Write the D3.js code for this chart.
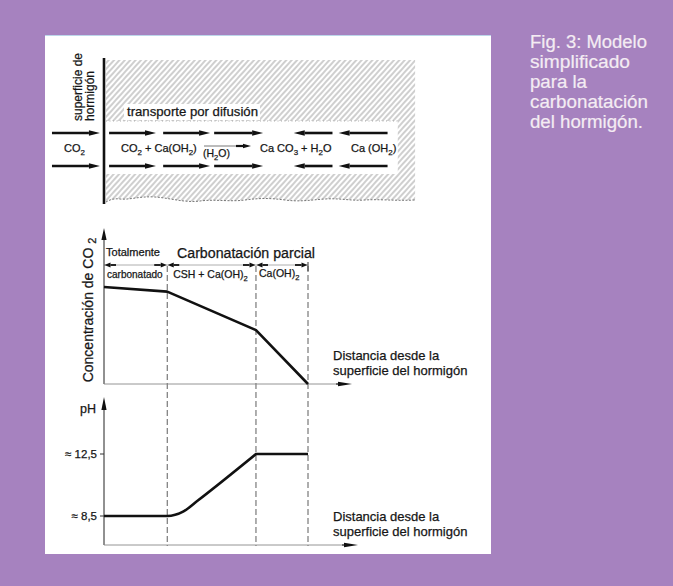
<!DOCTYPE html>
<html>
<head>
<meta charset="utf-8">
<script src="https://cdn.jsdelivr.net/npm/d3@7"></script>
<style>
  body { margin: 0; background: #a682bf; }
  text { font-family: 'Liberation Sans', Arial, sans-serif; fill: #161616; stroke: #161616; stroke-width: 0.25px; }
</style>
</head>
<body>
<div id="chart"></div>
<script>
// zone limits along the depth (arbitrary distance units)
var zoneBounds = [0, 3.1, 7.45, 10];
var zoneNames = ['carbonatado', 'CSH + Ca(OH)|2', 'Ca(OH)|2'];

// CO2 concentration profile (relative)
var co2Distance = [0, 3.1, 7.45, 10];
var co2Level = [0.63, 0.6, 0.35, 0];

// pH profile
var phDistance = [0, 3.1, 3.9, 4.6, 7.45, 10];
var phLevel = [8.5, 8.5, 8.8, 9.5, 12.5, 12.5];
var phTicks = [12.5, 8.5];
var phTickLabels = ['\u2248 12,5', '\u2248 8,5'];

// arrows of the diffusion sketch, [from, to] in distance units
var inflowArrows = [[-2.55, -0.2]];
var forwardArrows = [[0.25, 2.55], [2.9, 5.2], [5.4, 7.8]];
var backwardArrows = [[11.2, 9.3], [13.9, 11.5]];

var captionLines = ['Fig. 3: Modelo', 'simplificado', 'para la', 'carbonatación', 'del hormigón.'];
var distanceLabel = ['Distancia desde la', 'superficie del hormigón'];

var W = 673, H = 586;

var svg = d3.select('#chart')
  .append('svg')
  .attr('width', W)
  .attr('height', H);

var x = d3.scaleLinear().domain([0, 10]).range([104, 308]);
var yCo2 = d3.scaleLinear().domain([0, 1]).range([384, 230]);
var yPh = d3.scaleLinear().domain([8.5, 12.5]).range([516, 454]);

drawBackground();
drawSketch();
drawCo2Chart();
drawPhChart();
drawCaption();

function drawBackground() {
  svg.append('rect').attr('width', W).attr('height', H).attr('fill', '#a682bf');
  svg.append('rect')
    .attr('x', 45).attr('y', 35)
    .attr('width', 446).attr('height', 519)
    .attr('fill', '#ffffff');
  svg.append('line')
    .attr('x1', 45).attr('x2', 491).attr('y1', 35.5).attr('y2', 35.5)
    .attr('stroke', '#bcd6ea').attr('stroke-width', 1);
}

// horizontal arrow: shaft from x1 to x2, head at x2
function arrow(g, x1, x2, y, shaft, headLen, headHalf, color) {
  var dir = x2 > x1 ? 1 : -1;
  var xb = x2 - dir * headLen;
  g.append('line')
    .attr('x1', x1).attr('x2', xb)
    .attr('y1', y).attr('y2', y)
    .attr('stroke', color || '#111')
    .attr('stroke-width', shaft);
  g.append('path')
    .attr('d', 'M' + x2 + ',' + y + 'L' + xb + ',' + (y - headHalf) + 'L' + xb + ',' + (y + headHalf) + 'Z')
    .attr('fill', color || '#111');
}

function vArrowUp(g, xx, y1, y2, headLen, headHalf) {
  g.append('line')
    .attr('x1', xx).attr('x2', xx).attr('y1', y1).attr('y2', y2 + headLen)
    .attr('stroke', '#222').attr('stroke-width', 1);
  g.append('path')
    .attr('d', 'M' + xx + ',' + y2 + 'L' + (xx - headHalf) + ',' + (y2 + headLen) + 'L' + (xx + headHalf) + ',' + (y2 + headLen) + 'Z')
    .attr('fill', '#111');
}

// text with subscripts, parts separated by "|" alternate normal/sub
function chem(g, str, xx, yy, size, anchor) {
  var t = g.append('text')
    .attr('x', xx).attr('y', yy)
    .style('font-size', size + 'px')
    .attr('text-anchor', anchor || 'start');
  str.split('|').forEach(function (p, i) {
    var sub = i % 2 === 1;
    t.append('tspan')
      .attr('dy', i === 0 ? 0 : (sub ? size * 0.3 : -size * 0.3))
      .style('font-size', (sub ? size * 0.72 : size) + 'px')
      .text(p);
  });
  return t;
}

function drawSketch() {
  var g = svg.append('g');
  var defs = svg.append('defs');
  var pat = defs.append('pattern')
    .attr('id', 'hatch')
    .attr('patternUnits', 'userSpaceOnUse')
    .attr('width', 4).attr('height', 10)
    .attr('patternTransform', 'rotate(42)');
  pat.append('line')
    .attr('x1', 1).attr('x2', 1).attr('y1', 0).attr('y2', 10)
    .attr('stroke', '#8e8e8e').attr('stroke-width', 0.85);

  var left = x(0) + 2, right = x(15.25), chanRight = x(14.4);
  var topY = 60, chanTop = 121, chanBot = 174;

  // top band
  g.append('rect')
    .attr('x', left).attr('y', topY)
    .attr('width', right - left).attr('height', chanTop - topY)
    .attr('fill', 'url(#hatch)');
  // right end of the channel
  g.append('rect')
    .attr('x', chanRight).attr('y', chanTop)
    .attr('width', right - chanRight).attr('height', chanBot - chanTop)
    .attr('fill', 'url(#hatch)');
  // bottom band with a rough edge
  var wave = 'M' + left + ',' + chanBot + 'L' + right + ',' + chanBot +
    'L' + right + ',200 C395,201 380,199 365,200 C350,201 340,198 325,199 C310,200 300,202 285,200' +
    ' C270,198 260,198 245,200 C230,202 215,199 200,201 C185,203 170,198 155,197' +
    ' C140,196 130,200 120,199 C112,198 108,201 ' + left + ',202Z';
  g.append('path').attr('d', wave).attr('fill', 'url(#hatch)');
  g.append('path')
    .attr('d', 'M' + left + ',202 C108,201 112,198 120,199 C130,200 140,196 155,197 C170,198 185,203 200,201' +
      ' C215,199 230,202 245,200 C260,198 270,198 285,200 C300,202 310,200 325,199 C340,198 350,201 365,200 C380,199 395,201 ' + right + ',200')
    .attr('fill', 'none').attr('stroke', '#777').attr('stroke-width', 1).attr('stroke-dasharray', '2,1.5');
  g.append('line')
    .attr('x1', left).attr('x2', chanRight).attr('y1', chanTop).attr('y2', chanTop)
    .attr('stroke', '#999').attr('stroke-width', 0.8).attr('stroke-dasharray', '1,2.5');

  // label box
  g.append('rect')
    .attr('x', 124).attr('y', 104).attr('width', 136).attr('height', 16)
    .attr('fill', '#fff');
  g.append('text')
    .attr('x', 127).attr('y', 116)
    .attr('textLength', 131).attr('lengthAdjust', 'spacingAndGlyphs')
    .style('font-size', '13px')
    .text('transporte por difusión');

  // surface line
  g.append('line')
    .attr('x1', x(0)).attr('x2', x(0)).attr('y1', 58).attr('y2', 204)
    .attr('stroke', '#111').attr('stroke-width', 2.6);

  var surf = g.append('text')
    .attr('transform', 'translate(' + 82 + ',' + 121 + ') rotate(-90)')
    .style('font-size', '12px');
  surf.append('tspan').attr('x', 0).attr('dy', 0).text('superficie de');
  surf.append('tspan').attr('x', 0).attr('dy', 12).text('hormigón');

  [133, 166].forEach(function (yy) {
    inflowArrows.concat(forwardArrows, backwardArrows).forEach(function (a) {
      arrow(g, x(a[0]), x(a[1]), yy, 2.6, 11, 2.8);
    });
  });

  chem(g, 'CO|2', 64, 152, 11);
  chem(g, 'CO|2| + Ca(OH|2|)', 121, 152, 11);
  chem(g, '(H|2|O)', 203, 157, 10.5);
  g.append('line')
    .attr('x1', 204).attr('x2', 240).attr('y1', 146).attr('y2', 146)
    .attr('stroke', '#555').attr('stroke-width', 0.8);
  arrow(g, 236, 251, 146, 2.2, 8, 2.3);
  chem(g, 'Ca CO|3| + H|2|O', 260, 152, 11);
  chem(g, 'Ca (OH|2|)', 351, 152, 11);
}

function drawZoneMarks(g) {
  var yy = 265;
  g.append('line')
    .attr('x1', x(0)).attr('x2', x(10)).attr('y1', yy).attr('y2', yy)
    .attr('stroke', '#9a9a9a').attr('stroke-width', 0.8);
  for (var i = 0; i < zoneBounds.length - 1; i++) {
    var a = x(zoneBounds[i]), b = x(zoneBounds[i + 1]);
    arrow(g, a + 12, a + 0.5, yy, 1.8, 6, 2.4);
    arrow(g, b - 13, b - 0.5, yy, 1.8, 6, 2.4);
  }
  g.append('line')
    .attr('x1', x(10)).attr('x2', x(10)).attr('y1', 262).attr('y2', 271)
    .attr('stroke', '#333').attr('stroke-width', 1);

  // dashed zone limits through both charts
  g.selectAll('.limit')
    .data(zoneBounds.slice(1))
    .enter()
    .append('line')
    .attr('class', 'limit')
    .attr('x1', function (d) { return x(d); })
    .attr('x2', function (d) { return x(d); })
    .attr('y1', 266).attr('y2', 546)
    .attr('stroke', '#333').attr('stroke-width', 0.8)
    .attr('stroke-dasharray', '6,3');

  g.append('text')
    .attr('x', 106).attr('y', 256)
    .attr('textLength', 54).attr('lengthAdjust', 'spacingAndGlyphs')
    .style('font-size', '10px')
    .text('Totalmente');
  g.append('text')
    .attr('x', 177).attr('y', 258)
    .attr('textLength', 138).attr('lengthAdjust', 'spacingAndGlyphs')
    .style('font-size', '14px')
    .text('Carbonatación parcial');

  chem(g, zoneNames[0], x(zoneBounds[0]) + 3, 278, 10);
  chem(g, zoneNames[1], x(zoneBounds[1]) + 6, 278, 10.5);
  chem(g, zoneNames[2], x(zoneBounds[2]) + 3, 277, 10.5);
}

function drawDistanceLabel(g, y0) {
  var t = g.append('text').style('font-size', '13px');
  distanceLabel.forEach(function (s, i) {
    t.append('tspan').attr('x', 333).attr('y', y0 + i * 15).text(s);
  });
}

function drawCo2Chart() {
  var g = svg.append('g');
  drawZoneMarks(g);

  // axes
  vArrowUp(g, x(0), yCo2(0), 228, 12, 2.6);
  g.append('line')
    .attr('x1', x(0)).attr('x2', 340).attr('y1', yCo2(0)).attr('y2', yCo2(0))
    .attr('stroke', '#888').attr('stroke-width', 0.9);
  arrow(g, 336, 352, yCo2(0), 1, 14, 2.2);

  var line = d3.line()
    .x(function (d) { return x(d[0]); })
    .y(function (d) { return yCo2(d[1]); });
  g.append('path')
    .datum(co2Distance.map(function (d, i) { return [d, co2Level[i]]; }))
    .attr('d', line)
    .attr('fill', 'none')
    .attr('stroke', '#111')
    .attr('stroke-width', 2.6)
    .attr('stroke-linejoin', 'round');

  var lbl = g.append('text')
    .attr('transform', 'translate(93,310) rotate(-90)')
    .attr('text-anchor', 'middle')
    .style('font-size', '14px');
  lbl.append('tspan').text('Concentración de CO ');
  lbl.append('tspan').attr('dy', 3).style('font-size', '11px').text('2');

  drawDistanceLabel(g, 360);
}

function drawPhChart() {
  var g = svg.append('g');
  var yBase = 545;
  vArrowUp(g, x(0), yBase, 397, 13, 2.6);
  g.append('line')
    .attr('x1', x(0)).attr('x2', 345).attr('y1', yBase).attr('y2', yBase)
    .attr('stroke', '#888').attr('stroke-width', 0.9);
  arrow(g, 342, 358, yBase, 1, 14, 2.2);

  g.append('text')
    .attr('x', 80).attr('y', 413)
    .style('font-size', '12.5px')
    .text('pH');

  var ticks = g.selectAll('.tick')
    .data(phTicks)
    .enter()
    .append('g')
    .attr('class', 'tick');
  ticks.append('line')
    .attr('x1', x(0) - 4).attr('x2', x(0))
    .attr('y1', function (d) { return yPh(d); })
    .attr('y2', function (d) { return yPh(d); })
    .attr('stroke', '#333');
  ticks.append('text')
    .attr('x', 97)
    .attr('y', function (d) { return yPh(d) + 4; })
    .attr('text-anchor', 'end')
    .style('font-size', '11.5px')
    .text(function (d, i) { return phTickLabels[i]; });

  var pts = phDistance.map(function (d, i) { return [d, phLevel[i]]; });
  var k = phDistance.indexOf(7.45);
  var curve = d3.line()
    .x(function (d) { return x(d[0]); })
    .y(function (d) { return yPh(d[1]); })
    .curve(d3.curveMonotoneX);
  var flat = d3.line()
    .x(function (d) { return x(d[0]); })
    .y(function (d) { return yPh(d[1]); });
  g.append('path')
    .attr('d', curve(pts.slice(0, k + 1)) + flat(pts.slice(k)).replace('M', 'L'))
    .attr('fill', 'none')
    .attr('stroke', '#111')
    .attr('stroke-width', 2.6)
    .attr('stroke-linejoin', 'miter');

  drawDistanceLabel(g, 521);
}

function drawCaption() {
  // the caption face is a condensed grotesque, so squeeze each line to its width
  var lineWidths = [117, 100, 57, 118, 113];
  svg.append('g')
    .selectAll('text')
    .data(captionLines)
    .enter()
    .append('text')
    .attr('x', 530)
    .attr('y', function (d, i) { return 48 + i * 20; })
    .attr('textLength', function (d, i) { return lineWidths[i]; })
    .attr('lengthAdjust', 'spacingAndGlyphs')
    .style('font-size', '18px')
    .style('fill', '#f4ecf3')
    .style('stroke', '#f4ecf3')
    .style('stroke-width', '0.2px')
    .text(function (d) { return d; });
}
</script>
</body>
</html>
